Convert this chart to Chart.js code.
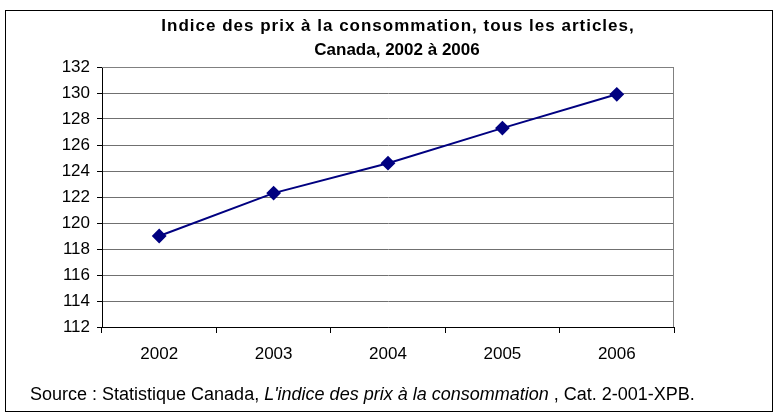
<!DOCTYPE html>
<html>
<head>
<meta charset="utf-8">
<script src="https://cdn.jsdelivr.net/npm/chart.js@4/dist/chart.umd.min.js"></script>
<style>
  html, body { margin: 0; padding: 0; background: #fff; }
  #wrap { width: 779px; height: 418px; position: relative; }
</style>
</head>
<body>
<div id="wrap"><canvas id="cpi"></canvas></div>
<script>
// ── Data ────────────────────────────────────────────────────────────

const YEARS = ['2002', '2003', '2004', '2005', '2006'];
const CPI_VALUES = [119.0, 122.3, 124.6, 127.3, 129.9];

const TITLE_LINES = [
  'Indice des prix à la consommation, tous les articles,',
  'Canada, 2002 à 2006',
];
const SOURCE_PARTS = [
  { text: 'Source : Statistique Canada, ', italic: false },
  { text: "L'indice des prix à la consommation", italic: true },
  { text: ' , Cat. 2-001-XPB.', italic: false },
];

const FONT = 'Arial, "Liberation Sans", sans-serif';

// ── Frame, title and source note ────────────────────────────────────

const framePlugin = {
  id: 'frame',
  beforeDraw(chart) {
    const ctx = chart.ctx;
    ctx.save();
    ctx.fillStyle = '#fff';
    ctx.fillRect(0, 0, chart.width, chart.height);
    ctx.strokeStyle = '#000';
    ctx.lineWidth = 1;
    ctx.strokeRect(5.5, 10.5, 767, 401);

    // title
    ctx.fillStyle = '#000';
    ctx.font = 'bold 17px ' + FONT;
    ctx.textAlign = 'center';
    ctx.textBaseline = 'middle';
    ctx.letterSpacing = '1px';
    ctx.fillText(TITLE_LINES[0], 398, 26);
    ctx.letterSpacing = '0px';
    ctx.fillText(TITLE_LINES[1], 397, 50);

    // source line
    ctx.textAlign = 'left';
    let x = 30;
    SOURCE_PARTS.forEach(p => {
      ctx.font = (p.italic ? 'italic ' : '') + '18px ' + FONT;
      ctx.fillText(p.text, x, 395);
      x += ctx.measureText(p.text).width;
    });
    ctx.restore();
  },
  beforeDatasetsDraw(chart) {
    // grey plot-area border (top and right)
    const { left, right, top, bottom } = chart.chartArea;
    const ctx = chart.ctx;
    ctx.save();
    ctx.strokeStyle = '#808080';
    ctx.lineWidth = 1;
    ctx.beginPath();
    ctx.moveTo(left, top + 0.5);
    ctx.lineTo(right - 0.5, top + 0.5);
    ctx.lineTo(right - 0.5, bottom);
    ctx.stroke();
    ctx.restore();
  },
};

// ── Chart ───────────────────────────────────────────────────────────

new Chart(document.getElementById('cpi'), {
  type: 'line',
  data: {
    labels: YEARS,
    datasets: [{
      data: CPI_VALUES,
      borderColor: '#000080',
      backgroundColor: '#000080',
      borderWidth: 2,
      pointStyle: 'rectRot',
      pointRadius: 6,
      pointHoverRadius: 6,
      tension: 0,
    }],
  },
  options: {
    responsive: true,
    maintainAspectRatio: false,
    animation: false,
    events: [],
    layout: { padding: { top: 67, right: 105, left: 0, bottom: 0 } },
    plugins: {
      legend: { display: false },
      tooltip: { enabled: false },
    },
    scales: {
      x: {
        offset: true,
        grid: {
          offset: true,
          drawOnChartArea: false,
          drawTicks: true,
          tickLength: 6,
          color: '#000',
        },
        border: { color: '#000', width: 1 },
        ticks: { color: '#000', font: { family: FONT, size: 17 }, padding: 11 },
        afterFit: s => { s.height = 91; },
      },
      y: {
        min: 112,
        max: 132,
        grid: {
          color: '#707070',
          tickLength: 5,
          tickColor: '#000',
        },
        border: { color: '#000', width: 1 },
        ticks: {
          stepSize: 2,
          color: '#000',
          font: { family: FONT, size: 17 },
          padding: 7,
        },
        afterFit: s => { s.width = 102; },
      },
    },
  },
  plugins: [framePlugin],
});
</script>
</body>
</html>
